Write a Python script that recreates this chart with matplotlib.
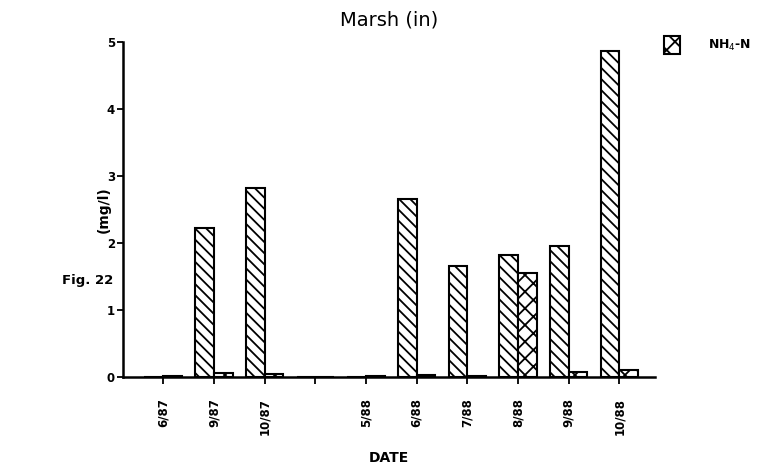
import numpy as np
import matplotlib.pyplot as plt

dates = ["6/87", "9/87", "10/87", "", "5/88", "6/88", "7/88", "8/88", "9/88", "10/88"]
series1 = [0.0, 2.23, 2.82, 0.0, 0.0, 2.65, 1.66, 1.82, 1.96, 4.87]
nh4_n = [0.01, 0.06, 0.04, 0.0, 0.01, 0.03, 0.01, 1.55, 0.08, 0.10]
yticks = [0, 1, 2, 3, 4, 5]

plt.rcParams["hatch.linewidth"] = 1.3

fig = plt.figure(figsize=(7.7, 4.76), dpi=100)
ax = fig.add_axes([0.160, 0.208, 0.691, 0.704])

x = np.arange(len(dates))
w = 0.37
ax.bar(x - w / 2, series1, width=w, facecolor="white", edgecolor="black",
       hatch="\\\\\\", linewidth=1.5)
bars = ax.bar(x + w / 2, nh4_n, width=w, facecolor="white", edgecolor="black",
              hatch="xx", linewidth=1.5, label="NH$_4$-N")

ax.set_xlim(-0.79, 9.71)
ax.set_ylim(0, 5)
ax.set_xticks(x)
ax.set_xticklabels(dates, rotation=90, fontsize=8.5, fontweight="bold")
ax.set_yticks(yticks)
ax.set_yticklabels([str(v) for v in yticks], fontsize=8.5, fontweight="bold")
ax.tick_params(axis="x", length=5, width=1.3, pad=10)
ax.tick_params(axis="y", length=4, width=1.3, pad=2)

for s in ["top", "right"]:
    ax.spines[s].set_visible(False)
for s in ["left", "bottom"]:
    ax.spines[s].set_linewidth(1.8)

ax.set_title("Marsh (in)", fontsize=14, pad=12)
ax.set_ylabel("(mg/l)", fontsize=10, fontweight="bold", labelpad=-3)
ax.set_xlabel("DATE", fontsize=10, fontweight="bold", labelpad=12)

fig.text(0.080, 0.41, "Fig. 22", fontsize=9.5, fontweight="bold", ha="left", va="center")

fig.legend(handles=[bars], loc="center left", bbox_to_anchor=(0.848, 0.905),
           frameon=False, handlelength=1.3, handleheight=1.8,
           handletextpad=2.2, prop={"weight": "bold", "size": 9})

fig.savefig("out.png", dpi=100)
